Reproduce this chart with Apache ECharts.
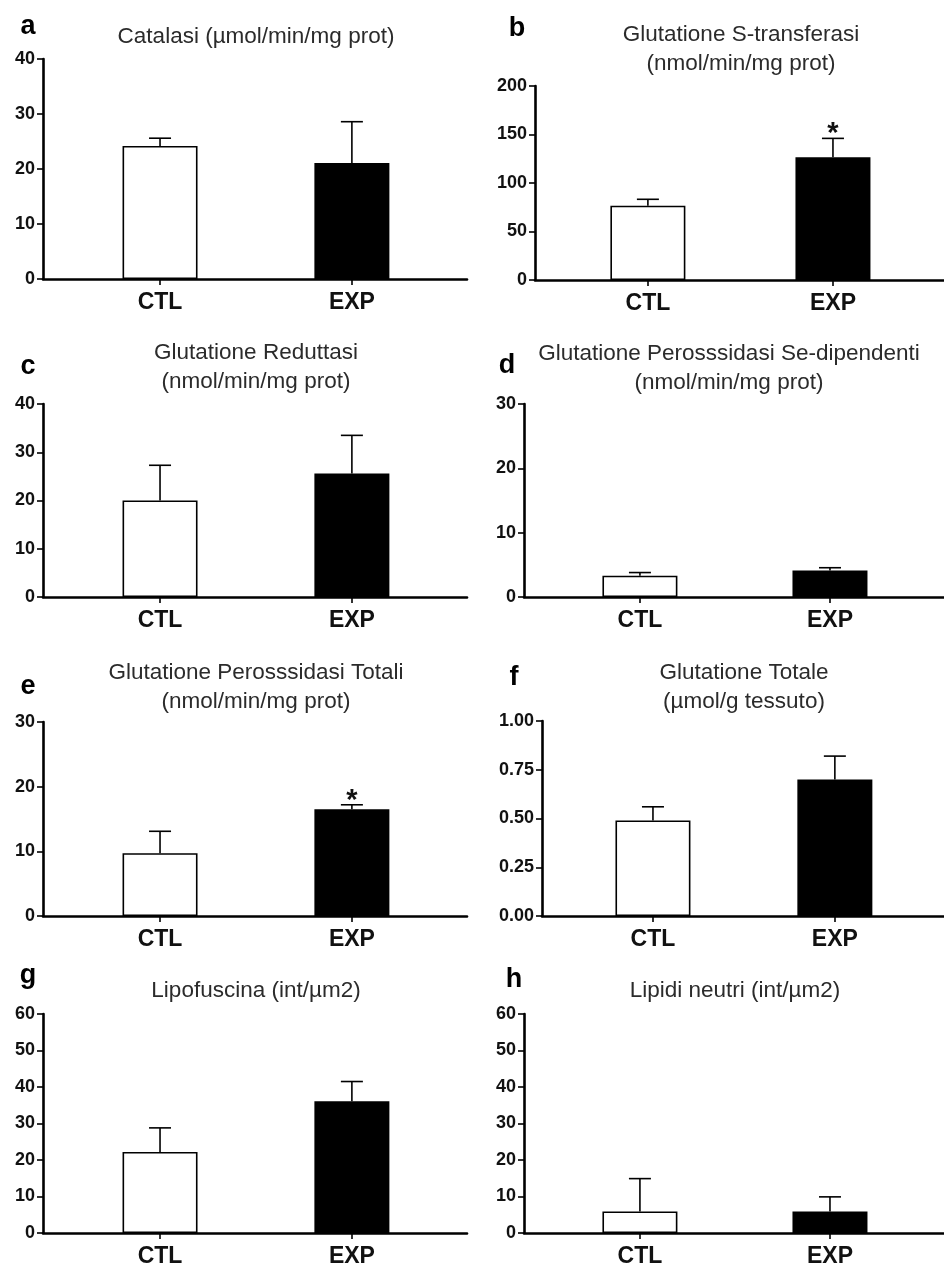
<!DOCTYPE html>
<html>
<head>
<meta charset="utf-8">
<script src="https://cdn.jsdelivr.net/npm/echarts@6/dist/echarts.min.js"></script>
<style>
  html, body { margin: 0; padding: 0; background: #ffffff; }
  #chart { width: 944px; height: 1268px; }
</style>
</head>
<body>
<div id="chart"></div>
<script>
// ---- data -------------------------------------------------------------
const categories = ['CTL', 'EXP'];

const panelLetters = ['a', 'b', 'c', 'd', 'e', 'f', 'g', 'h'];
const panelTitles = [
  'Catalasi (µmol/min/mg prot)',
  'Glutatione S-transferasi\n(nmol/min/mg prot)',
  'Glutatione Reduttasi\n(nmol/min/mg prot)',
  'Glutatione Perosssidasi Se-dipendenti\n(nmol/min/mg prot)',
  'Glutatione Perosssidasi Totali\n(nmol/min/mg prot)',
  'Glutatione Totale\n(µmol/g tessuto)',
  'Lipofuscina (int/µm2)',
  'Lipidi neutri (int/µm2)'
];

// mean values [CTL, EXP]
const catalasiMean     = [24.2, 21.1];
const gstMean          = [76.6, 126.5];
const reduttasiMean    = [20.0, 25.6];
const gpxSeMean        = [3.3, 4.1];
const gpxTotMean       = [9.7, 16.5];
const glutTotMean      = [0.49, 0.70];
const lipofuscinaMean  = [22.2, 36.1];
const lipidiMean       = [5.9, 5.9];

// upper error bar length [CTL, EXP]
const catalasiErr      = [1.4, 7.5];
const gstErr           = [6.6, 19.5];
const reduttasiErr     = [7.3, 7.9];
const gpxSeErr         = [0.5, 0.45];
const gpxTotErr        = [3.4, 0.7];
const glutTotErr       = [0.07, 0.12];
const lipofuscinaErr   = [6.6, 5.4];
const lipidiErr        = [9.0, 4.0];

// significance marks [CTL, EXP]
const catalasiSig      = ['', ''];
const gstSig           = ['', '*'];
const reduttasiSig     = ['', ''];
const gpxSeSig         = ['', ''];
const gpxTotSig        = ['', '*'];
const glutTotSig       = ['', ''];
const lipofuscinaSig   = ['', ''];
const lipidiSig        = ['', ''];

// y axis ranges
const yMaxValues  = [40, 200, 40, 30, 30, 1, 60, 60];
const yStepValues = [10, 50, 10, 10, 10, 0.25, 10, 10];
const yDecimals   = [0, 0, 0, 0, 0, 2, 0, 0];

const means = [catalasiMean, gstMean, reduttasiMean, gpxSeMean, gpxTotMean, glutTotMean, lipofuscinaMean, lipidiMean];
const errs  = [catalasiErr, gstErr, reduttasiErr, gpxSeErr, gpxTotErr, glutTotErr, lipofuscinaErr, lipidiErr];
const sigs  = [catalasiSig, gstSig, reduttasiSig, gpxSeSig, gpxTotSig, glutTotSig, lipofuscinaSig, lipidiSig];

// ---- layout -----------------------------------------------------------
const panelBoxes = [
  { left: 43,  top: 59,   width: 424, height: 220, titleX: 256, titleTop: 22,  letterX: 28,  letterY: 27 },
  { left: 535, top: 86,   width: 409, height: 194, titleX: 741, titleTop: 20,  letterX: 517, letterY: 29 },
  { left: 43,  top: 404,  width: 424, height: 193, titleX: 256, titleTop: 338, letterX: 28,  letterY: 367 },
  { left: 524, top: 404,  width: 420, height: 193, titleX: 729, titleTop: 339, letterX: 507, letterY: 366 },
  { left: 43,  top: 722,  width: 424, height: 194, titleX: 256, titleTop: 658, letterX: 28,  letterY: 687 },
  { left: 542, top: 721,  width: 402, height: 195, titleX: 744, titleTop: 658, letterX: 514, letterY: 678 },
  { left: 43,  top: 1014, width: 424, height: 220, titleX: 256, titleTop: 976, letterX: 28,  letterY: 976 },
  { left: 524, top: 1014, width: 420, height: 220, titleX: 735, titleTop: 976, letterX: 514, letterY: 980 }
];

const FONT = 'Liberation Sans, Arial, Helvetica, sans-serif';
const X_MIN = -0.61, X_MAX = 1.6;
const BAR_WIDTH = 75;
const CAP_HALF = 11;

const grids = [], xAxes = [], yAxes = [], series = [], titles = [];

panelBoxes.forEach((box, p) => {
  grids.push({ left: box.left, top: box.top, width: box.width, height: box.height, containLabel: false });

  xAxes.push({
    gridIndex: p,
    type: 'value',
    min: X_MIN,
    max: X_MAX,
    axisLine: { show: true, onZero: false, lineStyle: { color: '#000', width: 2.6 } },
    axisTick: { show: true, customValues: [0, 1], length: 6, lineStyle: { color: '#000', width: 1.6 } },
    axisLabel: {
      show: true,
      customValues: [0, 1],
      formatter: v => categories[Math.round(v)],
      margin: 12,
      fontFamily: FONT, fontWeight: 'bold', fontSize: 23, color: '#111'
    },
    splitLine: { show: false }
  });

  yAxes.push({
    gridIndex: p,
    type: 'value',
    position: 'left',
    min: 0,
    max: yMaxValues[p],
    interval: yStepValues[p],
    axisLine: { show: true, onZero: false, lineStyle: { color: '#000', width: 2.6 } },
    axisTick: { show: true, length: 6, lineStyle: { color: '#000', width: 1.6 } },
    axisLabel: {
      margin: 8,
      formatter: v => v.toFixed(yDecimals[p]),
      fontFamily: FONT, fontWeight: 'bold', fontSize: 18, color: '#111'
    },
    splitLine: { show: false }
  });

  // bars: white for CTL, black for EXP
  series.push({
    type: 'bar',
    xAxisIndex: p,
    yAxisIndex: p,
    barWidth: BAR_WIDTH,
    data: categories.map((c, i) => ({
      value: [i, means[p][i]],
      itemStyle: { color: i === 0 ? '#ffffff' : '#000000', borderColor: '#000', borderWidth: 1.6 }
    })),
    silent: true,
    z: 2
  });

  // upper error bars with caps and significance marks
  series.push({
    type: 'custom',
    xAxisIndex: p,
    yAxisIndex: p,
    data: categories.map((c, i) => [i, means[p][i], errs[p][i]]),
    renderItem: (params, api) => {
      const x = api.value(0), m = api.value(1), e = api.value(2);
      const base = api.coord([x, m]);
      const top = api.coord([x, m + e]);
      const children = [
        { type: 'line', shape: { x1: base[0], y1: base[1], x2: top[0], y2: top[1] },
          style: { stroke: '#000', lineWidth: 1.6 } },
        { type: 'line', shape: { x1: top[0] - CAP_HALF, y1: top[1], x2: top[0] + CAP_HALF, y2: top[1] },
          style: { stroke: '#000', lineWidth: 1.6 } }
      ];
      const mark = sigs[p][params.dataIndex];
      if (mark) {
        children.push({
          type: 'text',
          x: top[0], y: top[1] - 4,
          style: { text: mark, align: 'center', verticalAlign: 'middle',
                   font: 'bold 29px ' + FONT, fill: '#111' }
        });
      }
      return { type: 'group', children };
    },
    silent: true,
    z: 3
  });

  titles.push({
    text: panelTitles[p],
    left: box.titleX,
    top: box.titleTop,
    padding: 0,
    textAlign: 'center',
    textVerticalAlign: 'top',
    textStyle: { fontFamily: FONT, fontWeight: 'normal', fontSize: 22.5, lineHeight: 29, color: '#2b2b2b' }
  });
  titles.push({
    text: panelLetters[p],
    left: box.letterX,
    top: box.letterY,
    padding: 0,
    textAlign: 'center',
    textVerticalAlign: 'middle',
    textStyle: { fontFamily: FONT, fontWeight: 'bold', fontSize: 27, color: '#000' }
  });
});

const chart = echarts.init(document.getElementById('chart'), null, { renderer: 'canvas' });
chart.setOption({
  animation: false,
  backgroundColor: '#ffffff',
  title: titles,
  grid: grids,
  xAxis: xAxes,
  yAxis: yAxes,
  series: series
});
</script>
</body>
</html>
